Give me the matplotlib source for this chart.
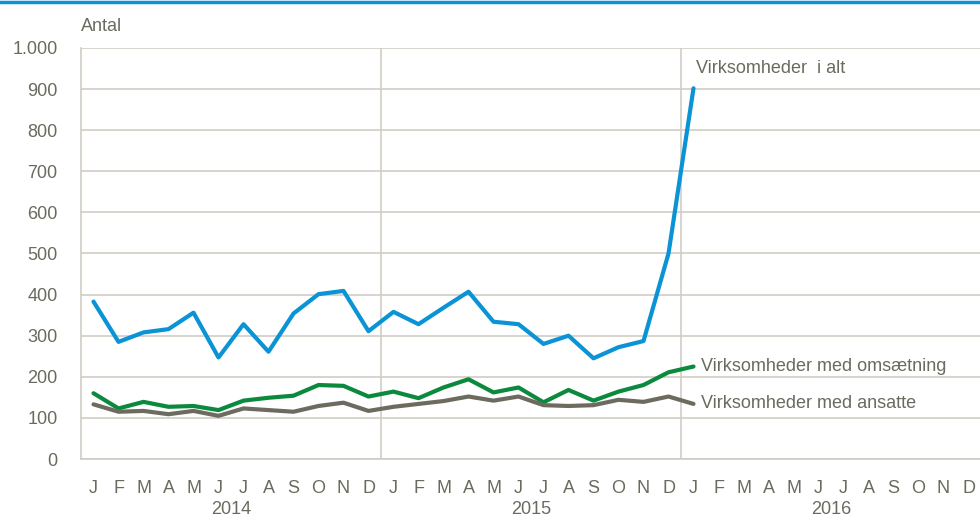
import numpy as np
import matplotlib.pyplot as plt
from matplotlib.lines import Line2D

# monthly counts, Jan 2014 - Jan 2016
i_alt = [383, 285, 308, 316, 356, 247, 328, 261, 354, 401, 409, 311,
         358, 328, 368, 407, 334, 328, 280, 300, 245, 272, 287, 500, 902]
omsaetning = [160, 123, 139, 127, 129, 119, 142, 149, 154, 180, 178, 152,
              164, 148, 174, 194, 162, 174, 138, 168, 142, 164, 180, 211, 225]
ansatte = [133, 115, 117, 109, 117, 105, 123, 119, 115, 129, 137, 117,
           127, 134, 141, 152, 142, 152, 131, 129, 131, 144, 139, 152, 134]

months = list("JFMAMJJASOND") * 3
years = ["2014", "2015", "2016"]

blue = "#0a93d5"
green = "#0b8a3d"
grey = "#6d6b60"
txt = "#6b6a5e"
gridc = "#cfcdc3"

plt.rcParams['font.family'] = ['Liberation Sans Narrow', 'Liberation Sans', 'DejaVu Sans']

fig = plt.figure(figsize=(9.8, 5.21), dpi=100)
ax = fig.add_axes([81/980, 1 - 459/521, 900/980, 411/521])

x = np.arange(len(i_alt))
ax.plot(x, i_alt, color=blue, lw=3, solid_capstyle='round', zorder=3)
ax.plot(x, omsaetning, color=green, lw=3, solid_capstyle='round', zorder=3)
ax.plot(x, ansatte, color=grey, lw=3, solid_capstyle='round', zorder=3)

ax.set_xlim(-0.5, 35.5)
ax.set_ylim(0, 1000)
ax.set_yticks(range(0, 1001, 100))
ax.set_yticklabels([f"{v:,}".replace(",", ".") for v in range(0, 1001, 100)])
ax.grid(axis='y', color=gridc, lw=1.2)
ax.set_axisbelow(True)
for xs in [11.5, 23.5]:
    ax.axvline(xs, color=gridc, lw=1.2, zorder=1)

ax.set_xticks(np.arange(36))
ax.set_xticklabels(months)
ax.tick_params(axis='both', length=0, colors=txt, labelsize=13)
ax.tick_params(axis='x', pad=15)
ax.tick_params(axis='y', pad=17)
for s in ['top', 'right']:
    ax.spines[s].set_visible(False)
for s in ['left', 'bottom']:
    ax.spines[s].set_color(gridc)
    ax.spines[s].set_linewidth(1.2)

for i, yr in enumerate(years):
    ax.text(5.5 + 12 * i, -0.122, yr, transform=ax.get_xaxis_transform(),
            ha='center', va='center', color=txt, fontsize=13)

ax.text(0.0, 1.052, "Antal", transform=ax.transAxes, ha='left', va='center',
        color=txt, fontsize=13)

ax.text(24.1, 950, "Virksomheder  i alt", ha='left', va='center', color=txt, fontsize=13)
ax.text(24.3, 225, "Virksomheder med omsætning", ha='left', va='center', color=txt, fontsize=13)
ax.text(24.3, 134, "Virksomheder med ansatte", ha='left', va='center', color=txt, fontsize=13)

fig.add_artist(Line2D([0, 1], [1 - 1.5/521, 1 - 1.5/521], color=blue, lw=2.5,
                      transform=fig.transFigure))

fig.savefig("out.png", dpi=100)
